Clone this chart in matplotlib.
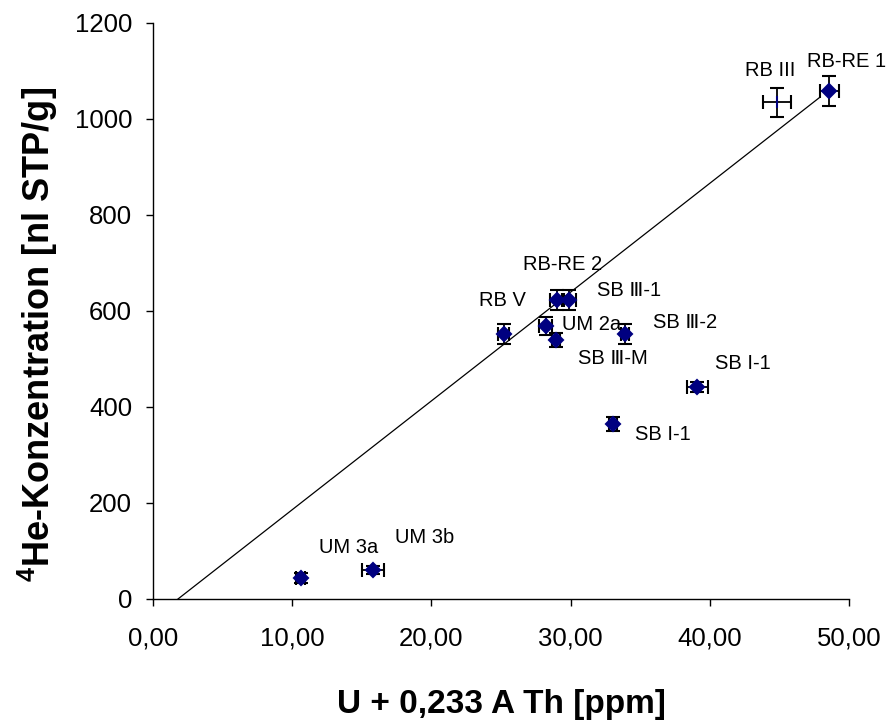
import matplotlib
matplotlib.use("Agg")
import matplotlib.pyplot as plt
import numpy as np

plt.rcParams["font.family"] = ["Liberation Sans", "DejaVu Sans"]
plt.rcParams["mathtext.fontset"] = "custom"
plt.rcParams["mathtext.rm"] = "Liberation Sans"
plt.rcParams["mathtext.bf"] = "Liberation Sans:bold"

# samples: name, U + 0.233 Th [ppm], 4He [nl STP/g], errors
names = ["UM 3a", "UM 3b", "RB V", "RB-RE 2", "SB Ⅲ-1", "UM 2a", "SB Ⅲ-M",
         "SB Ⅲ-2", "SB I-1", "SB I-1", "RB III", "RB-RE 1"]
x_vals = [10.6, 15.8, 25.2, 29.0, 29.9, 28.2, 28.95, 33.9, 39.1, 33.05, 44.8, 48.6]
y_vals = [44, 60, 552, 623, 623, 569, 540, 552, 442, 365, 1035, 1058]
x_err = [0.3, 0.8, 0.4, 0.5, 0.5, 0.5, 0.3, 0.3, 0.75, 0.3, 1.0, 0.7]
y_err = [10, 8, 20, 20, 20, 19, 15, 20, 10, 15, 30, 31]

# label anchor (left edge, centre) in data units
label_x = [11.9, 17.4, 23.4, 26.6, 31.9, 29.4, 30.5, 35.9, 40.4, 34.6, 42.5, 47.0]
label_y = [108, 129, 621, 696, 642, 571, 502, 577, 490, 342, 1100, 1119]

# trend line end points
trend_x = [1.8, 47.9]
trend_y = [0, 1045]

fig = plt.figure(figsize=(8.93, 7.22), dpi=100)
ax = fig.add_axes([0.1713, 0.1704, 0.7794, 0.7978])

ax.plot(trend_x, trend_y, color="black", linewidth=0.9, zorder=1)

for i in range(len(names)):
    marker = "|" if names[i] == "RB III" else "D"
    ms = 8 if names[i] == "RB III" else 7
    ax.errorbar(x_vals[i], y_vals[i], xerr=x_err[i], yerr=y_err[i],
                fmt=marker, color="#000080", markersize=ms, markeredgewidth=1.5,
                ecolor="black", elinewidth=1.3, capsize=5, capthick=1.3, zorder=3)
    ax.text(label_x[i], label_y[i], names[i], ha="left", va="center",
            fontsize=14.5, clip_on=False)

ax.set_xlim(0, 50)
ax.set_ylim(0, 1200)
xticks = np.arange(0, 51, 10)
ax.set_xticks(xticks)
ax.set_xticklabels([f"{t:.2f}".replace(".", ",") for t in xticks])
ax.set_yticks(np.arange(0, 1201, 200))
ax.tick_params(labelsize=18.5, direction="out", length=5, width=1.0)
ax.tick_params(axis="x", pad=15)
ax.tick_params(axis="y", pad=10)

for side in ["top", "right"]:
    ax.spines[side].set_visible(False)
for side in ["left", "bottom"]:
    ax.spines[side].set_linewidth(1.0)

fig.text(501 / 893, 1 - 713 / 722, "U + 0,233 A Th [ppm]", ha="center",
         va="baseline", fontsize=24, fontweight="bold")
fig.text(38 / 893, 1 - 334 / 722, r"$^{\mathbf{4}}$He-Konzentration [nl STP/g]",
         ha="center", va="center", rotation=90, fontsize=26, fontweight="bold")

fig.savefig("out.png", dpi=100)
